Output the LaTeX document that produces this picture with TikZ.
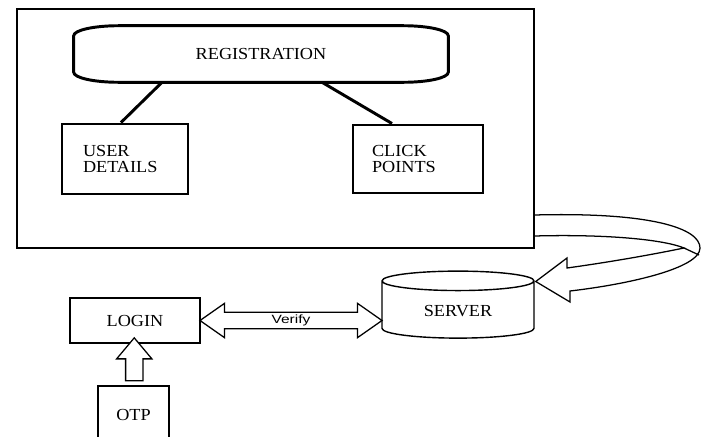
\documentclass[tikz,border=0pt]{standalone}
\usepackage{fontspec}
\setmainfont{Liberation Serif}[FakeStretch=1.08]
\newfontfamily\verifyfont{Liberation Sans}[FakeStretch=1.3]
\usetikzlibrary{shapes,arrows,positioning,calc}
\newcommand{\pxl}{0.25mm}
\tikzset{
  heavybox/.style={draw,line width=2.1pt,align=left,inner ysep=0pt},
  lightbox/.style={draw,line width=1pt},
  fatarrow/.style={draw,line width=0.9pt,fill=white,inner sep=0pt},
}

\begin{document}
\begin{tikzpicture}[x=\pxl,y=-\pxl,font=\fontsize{12}{11.5}\selectfont]
    \useasboundingbox (0,0) rectangle (706,436);
    \node (frame) [draw,line width=1.4pt,minimum width=517*\pxl,minimum height=239*\pxl] at (275.5,128.5) {};
    % registration: flat box, oval corners
    \node (reg) [minimum width=374*\pxl,minimum height=56*\pxl] at (261,54) {REGISTRATION};
    \draw [line width=2.1pt] ($(reg.north west)+(45,0)$) -- ($(reg.north east)+(-45,0)$)
        arc[start angle=90,end angle=0,x radius=11.25mm,y radius=2.5mm] -- ($(reg.south east)+(0,-10)$)
        arc[start angle=0,end angle=-90,x radius=11.25mm,y radius=2.5mm] -- ($(reg.south west)+(45,0)$)
        arc[start angle=270,end angle=180,x radius=11.25mm,y radius=2.5mm] -- ($(reg.north west)+(0,10)$)
        arc[start angle=180,end angle=90,x radius=11.25mm,y radius=2.5mm] -- cycle;
    \node (user) [heavybox,text width=21mm,inner xsep=5.25mm,minimum height=70*\pxl] at (125,159) {USER\\DETAILS};
    \node (click) [heavybox,text width=23mm,inner xsep=4.75mm,minimum height=68*\pxl] at (418,159) {CLICK\\POINTS};
    \draw [line width=2.1pt] ([xshift=-99*\pxl]reg.south) -- ([xshift=-4*\pxl]user.north);
    \draw [line width=2.1pt] ([xshift=61*\pxl]reg.south) -- ([xshift=-26*\pxl]click.north);

    \node (login) [lightbox,minimum width=130*\pxl,minimum height=45*\pxl] at (135,320.5) {LOGIN};
    \node (server) [cylinder,shape border rotate=90,draw,line width=1pt,aspect=0.25,
        minimum width=152*\pxl,minimum height=67*\pxl] at (458,311.5) {SERVER};
    \node (otp) [lightbox,minimum width=71*\pxl,minimum height=58*\pxl] at (133.5,415) {OTP};

    \node (verify) [double arrow,fatarrow,inner ysep=0.5mm,minimum height=182*\pxl,minimum width=32*\pxl,
        double arrow head extend=9*\pxl,double arrow tip angle=70,
        font=\verifyfont\fontsize{8.5}{8.5}\selectfont]
        at ($(login.east)!0.5!(server.west |- login.east)$) {Verify};
    \node (up) [single arrow,fatarrow,inner sep=2mm,rotate=90,minimum height=43*\pxl,minimum width=34*\pxl,
        single arrow head extend=9*\pxl,single arrow tip angle=80]
        at ($(otp.north)!0.5!(login.south)$) {};

    % twisted band back to the server
    \coordinate (ribtop) at ($(frame.south east)+(0,-34)$);
    \coordinate (ribbot) at ($(frame.south east)+(0,-13)$);
    \coordinate (tip) at ($(server.east)+(1,-30)$);
    \draw [line width=0.9pt] (ribtop) .. controls (650,212) and (700,228) .. (700,248)
        .. controls (700,268) and (630,284) .. (570,291) -- (570,302) -- (tip)
        -- (567,258) -- (567,268) .. controls (610,262) and (650,255) .. (684,248)
        .. controls (665,240) and (610,234) .. (ribbot);
    \draw [line width=0.9pt] (684,248) -- (699,255);
\end{tikzpicture}
\end{document}
